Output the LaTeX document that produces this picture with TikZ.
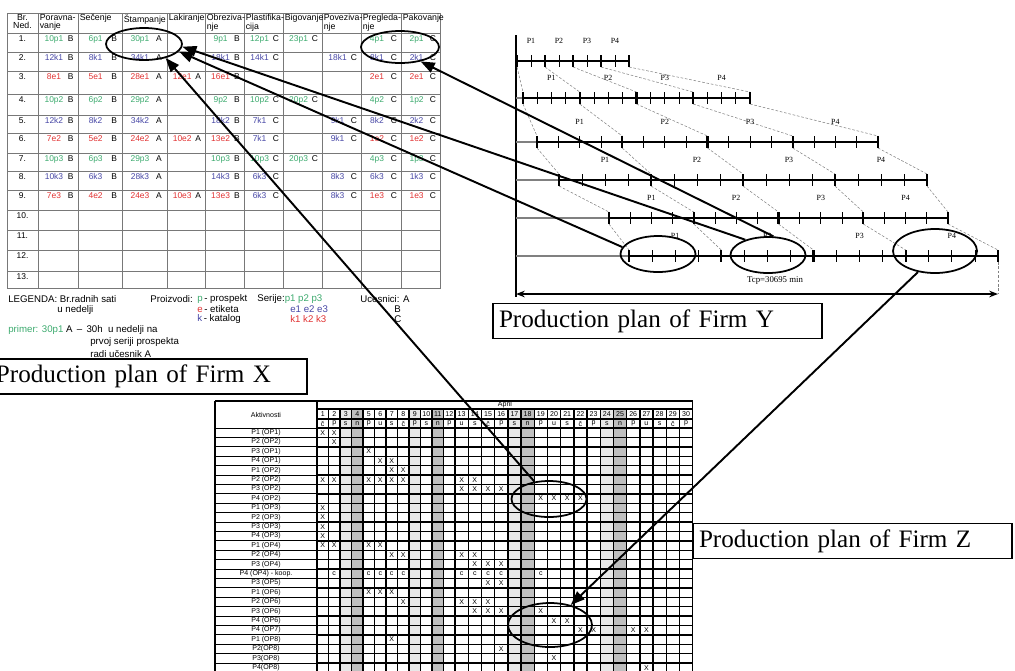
\documentclass[tikz,border=0pt]{standalone}
\usepackage{fontspec}
\setmainfont{Liberation Serif}
\setsansfont{Liberation Sans}
\usetikzlibrary{shapes.geometric,arrows.meta,positioning}

\definecolor{pcol}{RGB}{60,170,110}
\definecolor{kcol}{RGB}{70,70,165}
\definecolor{ecol}{RGB}{225,50,50}
\definecolor{gridcol}{RGB}{120,120,120}

\tikzset{
    ell/.style = {draw, ellipse, line width = 1pt, inner sep = 0pt},
    conn/.style = {line width = 1.1pt, -{Triangle[length = 8pt, width = 6pt]}},
    planbox/.style = {draw, line width = 0.8pt, text width = #1, align = left, inner xsep = 1.2mm, minimum height = 6.6mm, font = \fontsize{14.3}{16}\selectfont},
    hd/.style = {font = \sffamily\fontsize{5}{4.8}\selectfont, align = left, anchor = north west, inner sep = 0pt},
    val/.style = {font = \sffamily\fontsize{4.8}{5}\selectfont, anchor = north, inner sep = 0pt},
    leg/.style = {font = \sffamily\fontsize{5.5}{6}\selectfont, anchor = west, inner sep = 0pt},
    plab/.style = {font = \fontsize{4.5}{5}\selectfont, inner sep = 0pt},
    ztxt/.style = {font = \sffamily\fontsize{4}{4.5}\selectfont, inner sep = 0pt}
}

\def\colx{{7,38,78,122,167,205,244,283,322,361,401,440}}
\def\rowy{{13,33,52,71,94,115,133,153,171,190,210,230,250,271,288}}

\begin{document}
\begin{tikzpicture}[x = 0.2mm, y = -0.2mm]
    \useasboundingbox (0,0) rectangle (1015,670);
    \clip (0,0) rectangle (1015,670);

    % Firm X : weekly hours table
    \draw[gridcol, line width = 0.5pt] (7,13) rectangle (440,288);
    \foreach \x in {38,78,122,167,205,244,283,322,361,401}
        \draw[gridcol, line width = 0.5pt] (\x,13) -- (\x,288);
    \foreach \y in {33,52,71,94,115,133,153,171,190,210,230,250,271}
        \draw[gridcol, line width = 0.5pt] (7,\y) -- (440,\y);

    \node[hd, anchor = north, align = center] (h0) at (22.5,14) {Br.\\Ned.};
    \foreach \x/\tx [count = \ii] in {38/{Poravna-\\vanje}, 78/{Sečenje}, 122/{Štampanje}, 167/{Lakiranje}, 205/{Obreziva-\\nje}, 244/{Plastifika-\\cija}, 283/{Bigovanje}, 322/{Poveziva-\\nje}, 361/{Pregleda-\\nje}, 401/{Pakovanje}}
        \node[hd] (h\ii) at (\x+1.5,14) {\tx};

    \foreach \ri in {1,...,13} {
        \pgfmathsetmacro\yy{\rowy[\ri]}
        \node[val] (n\ri) at (22.5,\yy+2.5) {\ri.};
    }

    \foreach \ri/\cells in {
        1/{1/10p1/pcol/B, 2/6p1/pcol/B, 3/30p1/pcol/A, 5/9p1/pcol/B, 6/12p1/pcol/C, 7/23p1/pcol/C, 9/4p1/pcol/C, 10/2p1/pcol/C},
        2/{1/12k1/kcol/B, 2/8k1/kcol/B, 3/34k1/kcol/A, 5/18k1/kcol/B, 6/14k1/kcol/C, 8/18k1/kcol/C, 9/8k1/kcol/C, 10/2k1/kcol/C},
        3/{1/8e1/ecol/B, 2/5e1/ecol/B, 3/28e1/ecol/A, 4/12e1/ecol/A, 5/16e1/ecol/B, 9/2e1/ecol/C, 10/2e1/ecol/C},
        4/{1/10p2/pcol/B, 2/6p2/pcol/B, 3/29p2/pcol/A, 5/9p2/pcol/B, 6/10p2/pcol/C, 7/20p2/pcol/C, 9/4p2/pcol/C, 10/1p2/pcol/C},
        5/{1/12k2/kcol/B, 2/8k2/kcol/B, 3/34k2/kcol/A, 5/18k2/kcol/B, 6/7k1/kcol/C, 8/9k1/kcol/C, 9/8k2/kcol/C, 10/2k2/kcol/C},
        6/{1/7e2/ecol/B, 2/5e2/ecol/B, 3/24e2/ecol/A, 4/10e2/ecol/A, 5/13e2/ecol/B, 6/7k1/kcol/C, 8/9k1/kcol/C, 9/1e2/ecol/C, 10/1e2/ecol/C},
        7/{1/10p3/pcol/B, 2/6p3/pcol/B, 3/29p3/pcol/A, 5/10p3/pcol/B, 6/10p3/pcol/C, 7/20p3/pcol/C, 9/4p3/pcol/C, 10/1p3/pcol/C},
        8/{1/10k3/kcol/B, 2/6k3/kcol/B, 3/28k3/kcol/A, 5/14k3/kcol/B, 6/6k3/kcol/C, 8/8k3/kcol/C, 9/6k3/kcol/C, 10/1k3/kcol/C},
        9/{1/7e3/ecol/B, 2/4e2/ecol/B, 3/24e3/ecol/A, 4/10e3/ecol/A, 5/13e3/ecol/B, 6/6k3/kcol/C, 8/8k3/kcol/C, 9/1e3/ecol/C, 10/1e3/ecol/C}} {
        \pgfmathsetmacro\yy{\rowy[\ri]}
        \foreach \cidx/\cval/\ccol/\clet in \cells {
            \pgfmathsetmacro\xa{\colx[\cidx]}
            \pgfmathsetmacro\xb{\colx[\cidx+1]}
            \node[val, text = \ccol] (v\ri-\cidx) at ({\xa+0.4*(\xb-\xa)},\yy+2.5) {\cval};
            \node[val] (l\ri-\cidx) at ({\xa+0.82*(\xb-\xa)},\yy+2.5) {\clet};
        }
    }

    % legend
    \node[leg] (lg1) at (8,299) {LEGENDA: Br.radnih sati};
    \node[leg] (lg2) at (57,310) {u nedelji};
    \node[leg] (lg3) at (150,299) {Proizvodi:};
    \node[leg] (lg4) at (197,299) {\textcolor{pcol}{p}\,- prospekt};
    \node[leg] (lg5) at (197,309) {\textcolor{ecol}{e}\,- etiketa};
    \node[leg] (lg6) at (197,319) {\textcolor{kcol}{k}\,- katalog};
    \node[leg] (lg7) at (257,299) {Serije:\textcolor{pcol}{p1 p2 p3}};
    \node[leg, text = kcol] (lg8) at (290,309) {e1 e2 e3};
    \node[leg, text = ecol] (lg9) at (290,319) {k1 k2 k3};
    \node[leg] (lg10) at (360,299) {Ucesnici: A};
    \node[leg] (lg11) at (394,309) {B};
    \node[leg] (lg12) at (394,319) {C};
    \node[leg] (lg13) at (8,330) {\textcolor{pcol}{primer: 30p1} A \,--\, 30h\ \ u nedelji na};
    \node[leg] (lg14) at (90,342) {prvoj seriji prospekta};
    \node[leg] (lg15) at (90,354) {radi učesnik A};

    % Firm Y : transfer batches
    \draw[line width = 0.6pt] (516,35) -- (516,297);
    \foreach \ya/\xa/\xb/\yb/\xc/\xd in {61/517/629/98/523/750, 98/523/750/142/537/878, 142/537/878/180/559/927, 180/559/927/218/609/948, 218/609/948/256/629/998}
        \foreach \tx in {0,...,4}
            \draw[gray, line width = 0.3pt, dash pattern = on 1.5pt off 1pt] ({\xa+\tx*(\xb-\xa)/4},\ya+6) -- ({\xc+\tx*(\xd-\xc)/4},\yb-6);
    \foreach \kk/\y/\xa/\xb/\n in {1/61/517/629/8, 2/98/523/750/16, 3/142/537/878/16, 4/180/559/927/16, 5/218/609/948/16, 6/256/629/998/16} {
        \draw[gray, line width = 0.6pt] (516,\y) -- (\xa,\y);
        \draw[line width = 0.9pt] (\xa,\y) -- (\xb,\y);
        \foreach \tx in {0,...,\n}
            \draw[line width = 0.5pt] ({\xa+\tx*(\xb-\xa)/\n},\y-6) -- ++(0,12);
        \foreach \tx in {0,...,4}
            \draw[line width = 1.2pt] ({\xa+\tx*(\xb-\xa)/4},\y-6) -- ++(0,12);
        \foreach \p in {1,...,4}
            \node[plab] (p\kk-\p) at ({\xa+(\p-0.5)*(\xb-\xa)/4},\y-20) {P\p};
    }
    \coordinate (tl) at (516,294);
    \coordinate (tr) at (998,294);
    \draw[gray, line width = 0.3pt, dash pattern = on 1.5pt off 1pt] (998,262) -- (tr);
    \draw[line width = 0.8pt, {Stealth[length = 5pt]}-{Stealth[length = 5pt]}] (tl) -- (tr);
    \node[plab, font = \fontsize{5}{6}\selectfont] (tcp) at (775,281) {Tcp=30695 min};

    % Firm Z : April schedule
    \foreach \dn in {4,11,18,25} {
        \pgfmathsetmacro\xl{\dn<13 ? 317+(\dn-1)*11.5 : 455+(\dn-13)*13.2}
        \pgfmathsetmacro\cw{\dn<13 ? 11.5 : 13.2}
        \fill[gray!50] (\xl,409) rectangle (\xl+\cw,672);
    }
    \foreach \dn in {3,9,17,24} {
        \pgfmathsetmacro\xl{\dn<13 ? 317+(\dn-1)*11.5 : 455+(\dn-13)*13.2}
        \pgfmathsetmacro\cw{\dn<13 ? 11.5 : 13.2}
        \fill[gray!18] (\xl,409) rectangle (\xl+\cw,672);
    }
    \draw[line width = 0.9pt] (215,401) -- (692.6,401);
    \draw[line width = 0.6pt] (317,409) -- (692.6,409);
    \draw[line width = 0.6pt] (317,419) -- (692.6,419);
    \foreach \ii in {0,...,26} {
        \draw[line width = 0.4pt] (215,428+\ii*9.4) -- (317,428+\ii*9.4);
        \draw[line width = 0.8pt] (317,428+\ii*9.4) -- (692.6,428+\ii*9.4);
    }
    \foreach \x in {215,317,692.6}
        \draw[line width = 0.9pt] (\x,401) -- (\x,672);
    \foreach \dn in {2,...,30} {
        \pgfmathsetmacro\xl{\dn<13 ? 317+(\dn-1)*11.5 : 455+(\dn-13)*13.2}
        \draw[line width = 0.8pt] (\xl,409) -- (\xl,672);
    }
    \node[ztxt] (akt) at (266,414.5) {Aktivnosti};
    \node[ztxt] (apr) at (505,405) {April};
    \foreach \dn/\wk in {1/č,2/p,3/s,4/n,5/p,6/u,7/s,8/č,9/p,10/s,11/n,12/p,13/u,14/s,15/č,16/p,17/s,18/n,19/p,20/u,21/s,22/č,23/p,24/s,25/n,26/p,27/u,28/s,29/č,30/p} {
        \pgfmathsetmacro\xc{\dn<13 ? 317+(\dn-0.5)*11.5 : 455+(\dn-12.5)*13.2}
        \node[ztxt] (dn\dn) at (\xc,414) {\dn};
        \node[ztxt] (dw\dn) at (\xc,423.5) {\wk};
    }
    \foreach \tx [count = \ii] in {P1 (OP1), P2 (OP2), P3 (OP1), P4 (OP1), P1 (OP2), P2 (OP2), P3 (OP2), P4 (OP2), P1 (OP3), P2 (OP3), P3 (OP3), P4 (OP3), P1 (OP4), P2 (OP4), P3 (OP4), P4 (OP4) - koop., P3 (OP5), P1 (OP6), P2 (OP6), P3 (OP6), P4 (OP6), P4 (OP7), P1 (OP8), P2(OP8), P3(OP8), P4(OP8)}
        \node[ztxt] (a\ii) at (266,428+\ii*9.4-4.7) {\tx};
    \foreach \ri/\marks in {1/{1,2}, 2/{2}, 3/{5}, 4/{6,7}, 5/{7,8}, 6/{1,2,5,6,7,8,13,14}, 7/{13,14,15,16}, 8/{19,20,21,22}, 9/{1}, 10/{1}, 11/{1}, 12/{1}, 13/{1,2,5,6}, 14/{7,8,13,14}, 15/{14,15,16}, 17/{15,16}, 18/{5,6,7}, 19/{8,13,14,15}, 20/{14,15,16,19}, 21/{20,21}, 22/{22,23,26,27}, 23/{7}, 24/{16}, 25/{20}, 26/{27}}
        \foreach \dn in \marks {
            \pgfmathsetmacro\xc{\dn<13 ? 317+(\dn-0.5)*11.5 : 455+(\dn-12.5)*13.2}
            \node[ztxt] (x\ri-\dn) at (\xc,428+\ri*9.4-4.7) {X};
        }
    \foreach \dn in {2,5,6,7,8,13,14,15,16,19} {
        \pgfmathsetmacro\xc{\dn<13 ? 317+(\dn-0.5)*11.5 : 455+(\dn-12.5)*13.2}
        \node[ztxt] (c\dn) at (\xc,428+16*9.4-4.7) {c};
    }

    % plan boxes
    \node[planbox = 61mm] (boxX) at (148.5,376.5) {Production plan of Firm X};
    \node[planbox = 63.4mm] (boxY) at (657.5,321) {Production plan of Firm Y};
    \node[planbox = 61.4mm] (boxZ) at (852.5,541) {Production plan of Firm Z};

    % marked parts
    \node[ell, minimum width = 15.2mm, minimum height = 6.4mm] (ellX1) at (144,44) {};
    \node[ell, minimum width = 15.6mm, minimum height = 6.4mm] (ellX2) at (400,47) {};
    \node[ell, minimum width = 15mm, minimum height = 7.2mm] (ellY1) at (658,254) {};
    \node[ell, minimum width = 15mm, minimum height = 7.2mm] (ellY2) at (768,255) {};
    \node[ell, minimum width = 16.8mm, minimum height = 8.8mm] (ellY4) at (935,251) {};
    \node[ell, minimum width = 15mm, minimum height = 7.2mm] (ellZ1) at (549,499) {};
    \node[ell, minimum width = 16.8mm, minimum height = 8.8mm] (ellZ2) at (550,625) {};

    \draw[conn] (ellY1.169) -- (ellX1.-12);
    \draw[conn] (ellY2.146) -- (ellX1.-4);
    \draw[conn] (ellY2.74) -- (ellX2.-35);
    \draw[conn] (ellZ1.130) -- (ellX1.-33);
    \draw[conn] (ellY4.231) -- (ellZ2.44);
\end{tikzpicture}
\end{document}
